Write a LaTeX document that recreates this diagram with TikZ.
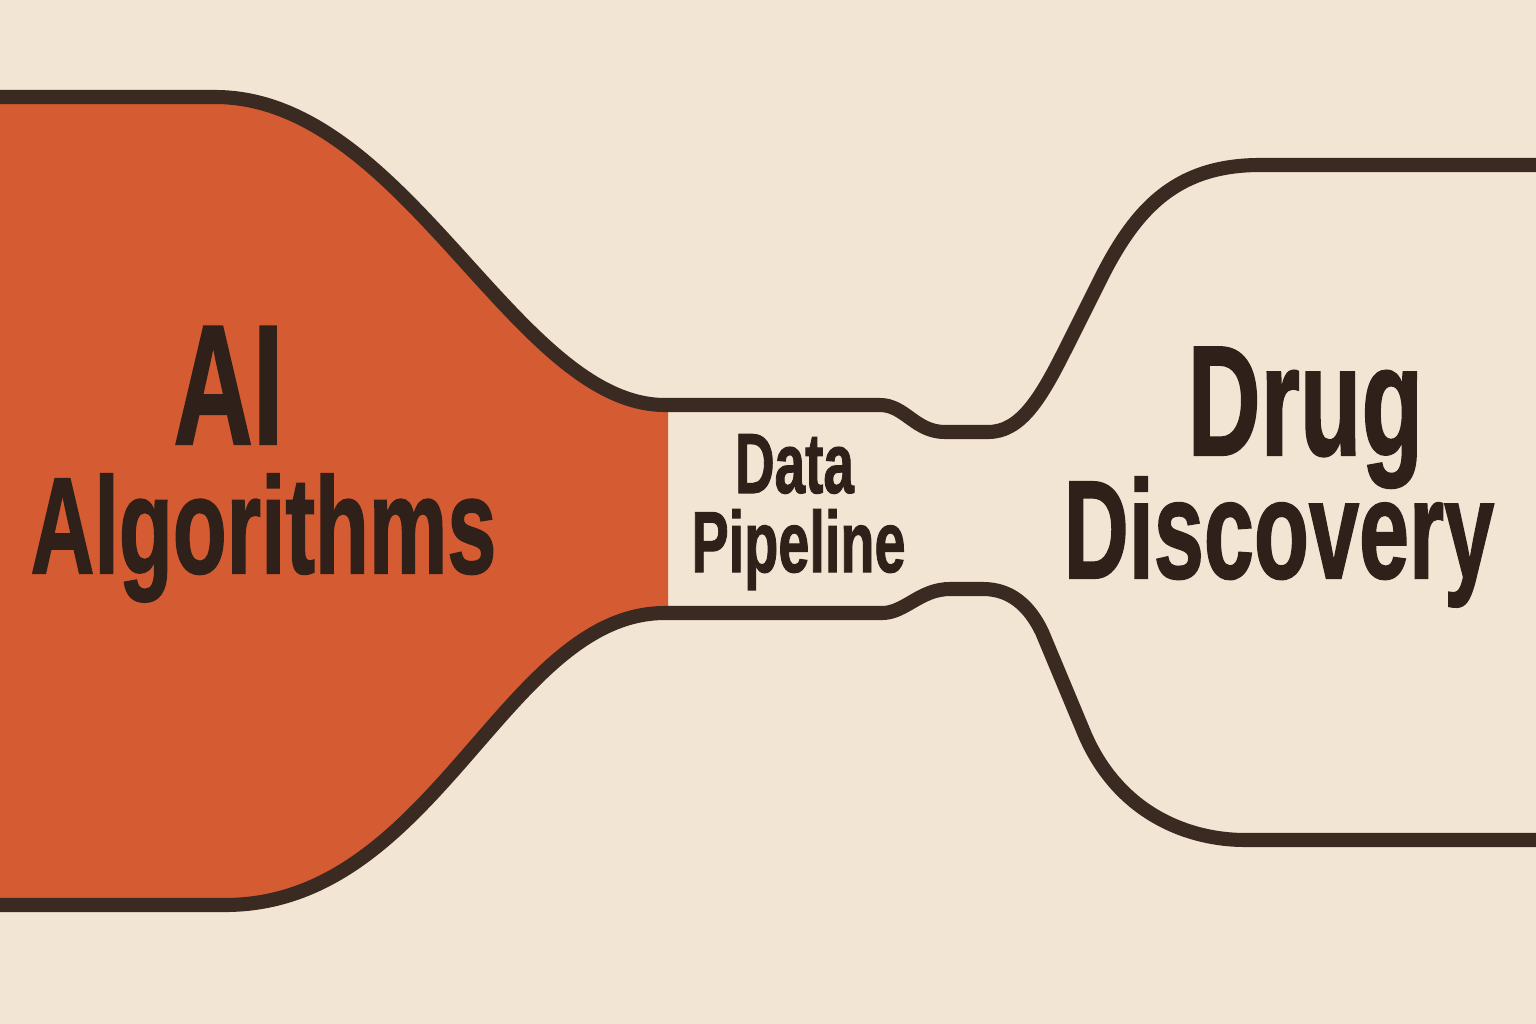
\documentclass[tikz,border=0pt]{standalone}
\usepackage{fontspec}
\setmainfont{Liberation Sans}[BoldFeatures={FakeBold=1.5}]
\definecolor{bgcream}{HTML}{F3E5D3}
\definecolor{aiorange}{HTML}{D55B32}
\definecolor{inkline}{HTML}{3A2A21}
\definecolor{inktext}{HTML}{2F2019}
\tikzset{
  outline/.style={draw=inkline, line width=4pt, line cap=butt, line join=round},
  label/.style={text=inktext, inner sep=0pt, anchor=base, align=center, xscale=0.645},
}
\begin{document}
\lineskiplimit=-100pt
\begin{tikzpicture}[x=0.01cm, y=-0.01cm]
\useasboundingbox (0,0) rectangle (1536,1024);
\fill[bgcream] (0,0) rectangle (1536,1024);
% orange AI region
\fill[aiorange] (0,97) -- (215,97) .. controls (405,97) and (515,405) .. (665,405)
  -- (668,405) -- (668,613) -- (665,613)
  .. controls (505,613) and (435,905) .. (225,905) -- (0,905) -- cycle;
% top outline
\draw[outline] (0,97) -- (215,97) .. controls (405,97) and (515,405) .. (665,405)
  -- (880,405) .. controls (905,405) and (915,432) .. (945,432) -- (988,432)
  .. controls (1020,432) and (1040,400) .. (1065,350) -- (1100,280)
  .. controls (1135,210) and (1175,165) .. (1260,165) -- (1536,165);
% bottom outline
\draw[outline] (0,905) -- (225,905) .. controls (435,905) and (505,613) .. (665,613)
  -- (882,613) .. controls (905,613) and (920,589) .. (950,589) -- (983,589)
  .. controls (1010,589) and (1029,605) .. (1042,632) -- (1085,735)
  .. controls (1120,815) and (1190,840) .. (1245,840) -- (1536,840);
% labels (base anchor = baseline of the last line)
\node[label, font=\bfseries\fontsize{48.5}{36.7pt}\selectfont] (ai) at (263.5,573)
  {AI\hspace*{1.085cm}\\\fontsize{38.9}{36.7pt}\selectfont Algorithms};
\node[label, font=\bfseries\fontsize{24.2}{22.5pt}\selectfont] (dp) at (798.5,572)
  {Data\hspace*{0.124cm}\\\fontsize{24.6}{22.5pt}\selectfont Pipeline};
\node[label, font=\bfseries\fontsize{44.5}{35pt}\selectfont] (dd) at (1279,578)
  {\hspace*{0.82cm}Drug\\\fontsize{39.7}{35pt}\selectfont Discovery};
\end{tikzpicture}
\end{document}
